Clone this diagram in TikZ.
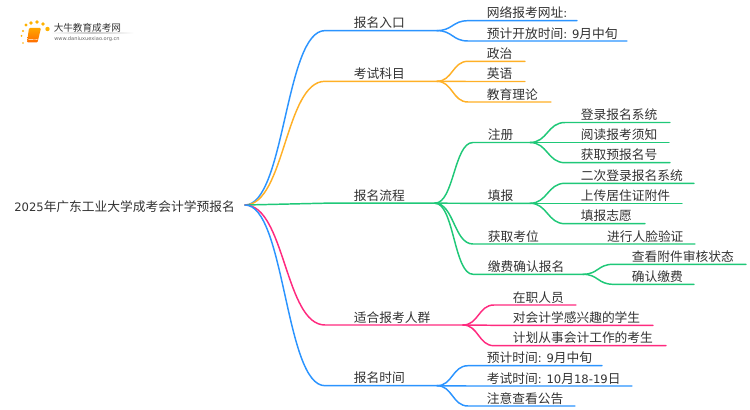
\documentclass[tikz,border=0pt]{standalone}
\usepackage{fontspec}
\usetikzlibrary{calc}
\setmainfont{Noto Sans CJK SC}
\newfontfamily\lat[Scale=0.91]{DejaVu Sans}
\definecolor{cblue}{HTML}{2B94FF}
\definecolor{corange}{HTML}{FFB026}
\definecolor{cgreen}{HTML}{1FC878}
\definecolor{cpink}{HTML}{FF2A7F}
\definecolor{ctext}{HTML}{333333}
\tikzset{
  lbl/.style={anchor=west,inner sep=0pt,text=ctext,font=\fontsize{9.55pt}{11pt}\selectfont},
  link/.style={line width=1.1pt,line cap=round},
}
% name, line start x, line end x, line y, text x, text
\newcommand{\branch}[6]{%
  \coordinate (#1-i) at (#2,#4);
  \coordinate (#1-o) at (#3,#4);
  \node[lbl] (#1) at (#5-.4,#4-7.8) {#6};
}
% colour, from, to
\newcommand{\lnk}[3]{%
  \coordinate (mid) at ($(#2)!.5!(#3-i)$);
  \draw[link,#1] (#2) .. controls (mid |- #2) and (mid |- #3-i) .. (#3-i) -- (#3-o);
}
\begin{document}
\begin{tikzpicture}[x=0.75pt,y=-0.75pt]
\useasboundingbox (0,0) rectangle (750,410);
\fill[white] (0,0) rectangle (750,410);
% logo
\shade[left color=white,right color=white,middle color=black!22] (50,33) rectangle (134,33.6);
\foreach \x/\y/\r in {26/25/1.6,31/23/1.8,37/22/1.9,43/24/1.9,47.5/29/2.2,23/31/1.2,21.5/36/1,23/43/.9}
  \fill[orange!60!yellow] (\x,\y) circle (\r);
\shade[top color=orange!70!yellow,bottom color=orange!85!red,rounded corners=.8pt] (29,28) -- (41,28) -- (37.5,42.5) -- (27,42.5) -- cycle;
\draw[white,line width=.3pt] (28.5,39.7) -- (37.5,39.4);
\node[lbl,font=\fontsize{7.2pt}{8pt}\selectfont] (logoa) at (53.5,28) {大牛教育成考网};
\node[lbl,text=black!60,font=\lat\fontsize{4.2pt}{5pt}\selectfont] (logob) at (54,39) {www.daniuxuexiao.org.cn};
% root
\node[lbl] (root) at (14,206.5) {{\lat 2025}年广东工业大学成考会计学预报名};
\coordinate (r) at (245,205);
% level 1
\branch{a}{325}{437}{30.6}{354}{报名入口}
\branch{b}{325}{437}{81.3}{354}{考试科目}
\branch{c}{325}{435}{203.2}{354}{报名流程}
\branch{d}{325}{463}{325}{354}{适合报考人群}
\branch{e}{325}{437}{385.7}{354}{报名时间}
\lnk{cblue}{r}{a}
\lnk{corange}{r}{b}
\lnk{cgreen}{r}{c}
\lnk{cpink}{r}{d}
\lnk{cblue}{r}{e}
% a
\branch{a1}{468}{577}{20.7}{487}{网络报考网址{\lat :}}
\branch{a2}{468}{627}{41}{487}{预计开放时间{\lat : 9}月中旬}
\lnk{cblue}{a-o}{a1}
\lnk{cblue}{a-o}{a2}
% b
\branch{b1}{468}{525}{61.3}{487}{政治}
\branch{b2}{468}{525}{81.5}{487}{英语}
\branch{b3}{468}{551}{102}{487}{教育理论}
\lnk{corange}{b-o}{b1}
\lnk{corange}{b-o}{b2}
\lnk{corange}{b-o}{b3}
% c
\branch{c1}{473}{530}{142.5}{488}{注册}
\branch{c2}{473}{530}{203.3}{488}{填报}
\branch{c3}{473}{695}{244}{488}{获取考位}
\branch{c4}{473}{583}{274.3}{488}{缴费确认报名}
\lnk{cgreen}{c-o}{c1}
\lnk{cgreen}{c-o}{c2}
\lnk{cgreen}{c-o}{c3}
\lnk{cgreen}{c-o}{c4}
\node[lbl] (c31) at (606.8,236.2) {进行人脸验证};
% c1
\branch{c11}{565}{670}{122.5}{581}{登录报名系统}
\branch{c12}{565}{669}{142.5}{581}{阅读报考须知}
\branch{c13}{565}{670}{162.7}{581}{获取预报名号}
\lnk{cgreen}{c1-o}{c11}
\lnk{cgreen}{c1-o}{c12}
\lnk{cgreen}{c1-o}{c13}
% c2
\branch{c21}{565}{694}{183.3}{581}{二次登录报名系统}
\branch{c22}{565}{682}{203.3}{581}{上传居住证附件}
\branch{c23}{565}{645}{223.7}{581}{填报志愿}
\lnk{cgreen}{c2-o}{c21}
\lnk{cgreen}{c2-o}{c22}
\lnk{cgreen}{c2-o}{c23}
% c4
\branch{c41}{613}{746}{264.3}{632}{查看附件审核状态}
\branch{c42}{613}{694}{284.3}{632}{确认缴费}
\lnk{cgreen}{c4-o}{c41}
\lnk{cgreen}{c4-o}{c42}
% d
\branch{d1}{494}{576}{305}{513}{在职人员}
\branch{d2}{494}{653}{325.3}{513}{对会计学感兴趣的学生}
\branch{d3}{494}{666}{345.7}{513}{计划从事会计工作的考生}
\lnk{cpink}{d-o}{d1}
\lnk{cpink}{d-o}{d2}
\lnk{cpink}{d-o}{d3}
% e
\branch{e1}{468}{602}{365.7}{487}{预计时间{\lat : 9}月中旬}
\branch{e2}{468}{632}{386}{487}{考试时间{\lat : 10}月{\lat 18-19}日}
\branch{e3}{468}{575}{406}{487}{注意查看公告}
\lnk{cblue}{e-o}{e1}
\lnk{cblue}{e-o}{e2}
\lnk{cblue}{e-o}{e3}
\end{tikzpicture}
\end{document}
